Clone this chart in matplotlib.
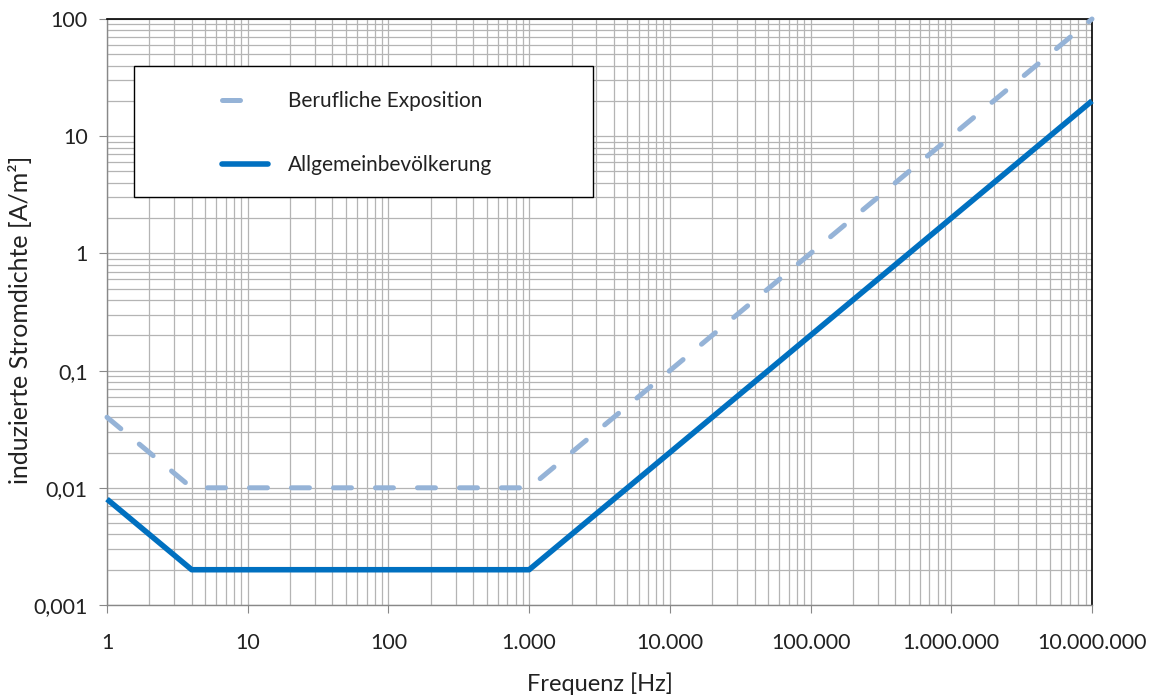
import matplotlib
matplotlib.use("Agg")
import matplotlib.pyplot as plt
from matplotlib.patches import Rectangle
from matplotlib.lines import Line2D
from matplotlib.ticker import LogLocator, FixedLocator, NullFormatter

freq_occ = [1, 4, 1000, 1e7]
val_occ = [0.04, 0.01, 0.01, 100]
freq_gen = [1, 4, 1000, 1e7]
val_gen = [0.008, 0.002, 0.002, 20]

xticks = [1, 10, 100, 1e3, 1e4, 1e5, 1e6, 1e7]
xlabels = ["1", "10", "100", "1.000", "10.000", "100.000", "1.000.000", "10.000.000"]
yticks = [0.001, 0.01, 0.1, 1, 10, 100]
ylabels = ["0,001", "0,01", "0,1", "1", "10", "100"]

plt.rcParams['font.family'] = ['Lato', 'DejaVu Sans']

W, H = 1151, 698
X0, X1, Y0, Y1 = 107, 1092, 19, 605
fig = plt.figure(figsize=(W/100, H/100), dpi=100)
ax = fig.add_axes([X0/W, 1-Y1/H, (X1-X0)/W, (Y1-Y0)/H])
ax.set_xscale('log')
ax.set_yscale('log')
ax.set_xlim(1, 1e7)
ax.set_ylim(0.001, 100)

def ax_x(px):
    return (px - X0) / (X1 - X0)

def ax_y(py):
    return 1 - (py - Y0) / (Y1 - Y0)

ax.xaxis.set_major_locator(FixedLocator(xticks))
ax.set_xticklabels(xlabels)
ax.yaxis.set_major_locator(FixedLocator(yticks))
ax.set_yticklabels(ylabels)
ax.xaxis.set_minor_locator(LogLocator(base=10, subs=range(2, 10), numticks=20))
ax.yaxis.set_minor_locator(LogLocator(base=10, subs=range(2, 10), numticks=20))
ax.xaxis.set_minor_formatter(NullFormatter())
ax.yaxis.set_minor_formatter(NullFormatter())

ax.grid(True, which='both', color='#b4b4b4', linewidth=0.9)
ax.set_axisbelow(True)
ax.tick_params(which='minor', length=0)
ax.tick_params(which='major', length=6, color='#888888', labelsize=15.5, colors='#222222', pad=14)
ax.tick_params(axis='y', pad=8)

for s in ['left', 'bottom']:
    ax.spines[s].set_color('#888888')
    ax.spines[s].set_linewidth(1.0)
for s in ['top', 'right']:
    ax.spines[s].set_color('black')
    ax.spines[s].set_linewidth(1.2)

occ_color, gen_color = '#95B3D7', '#0070C0'
ax.plot(freq_occ, val_occ, color=occ_color, linewidth=3.6, dashes=(3.6, 4.8),
        dash_capstyle='round', clip_on=False, zorder=3)
ax.plot(freq_gen, val_gen, color=gen_color, linewidth=4.0, solid_capstyle='butt',
        clip_on=False, zorder=4)

# legend proxies (one dash for the dashed series, as in the reference)
h1 = Line2D([], [], color=occ_color, linewidth=3.6, dashes=(3.6, 20), dash_capstyle='round')
h2 = Line2D([], [], color=gen_color, linewidth=4.0, solid_capstyle='round')

ax.add_patch(Rectangle((ax_x(134), ax_y(197)), ax_x(593) - ax_x(134), ax_y(66) - ax_y(197),
                       transform=ax.transAxes, facecolor='white', edgecolor='black',
                       linewidth=1.0, zorder=5))
leg = ax.legend(handles=[h1, h2], labels=['Berufliche Exposition', 'Allgemeinbevölkerung'],
                loc='center left', bbox_to_anchor=(ax_x(222), ax_y(133)),
                frameon=False, fontsize=15, handlelength=2.2, labelspacing=2.1,
                borderpad=0, handletextpad=0.95, borderaxespad=0)
leg.set_zorder(6)
for t in leg.get_texts():
    t.set_color('#222222')

ax.set_xlabel('Frequenz [Hz]', fontsize=17, color='#222222', labelpad=14)
ax.set_ylabel('induzierte Stromdichte [A/m²]', fontsize=18, color='#222222')
ax.yaxis.set_label_coords(ax_x(32), ax_y(320))

fig.savefig('out.png', dpi=100)
